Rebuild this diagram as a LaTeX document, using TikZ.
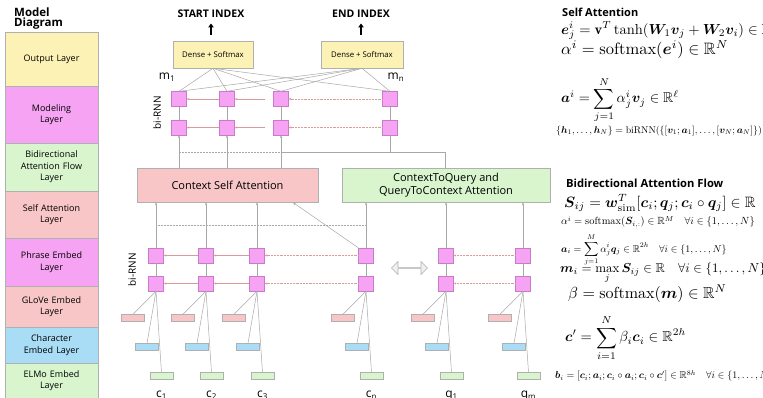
\documentclass[tikz,border=0pt]{standalone}
\usepackage{amsmath,amssymb,bm}
\usepackage{fontspec}
\newfontfamily\os{Open Sans}
\usetikzlibrary{shapes.arrows,arrows.meta}
\definecolor{cyel}{HTML}{FCF2B6}
\definecolor{cmag}{HTML}{F5A3F2}
\definecolor{cgrn}{HTML}{D8F5CE}
\definecolor{cpnk}{HTML}{F8C6C6}
\definecolor{cblu}{HTML}{A9DDF6}
\definecolor{cline}{HTML}{A8A8A8}
\definecolor{carr}{HTML}{D89A9A}
\definecolor{cbord}{HTML}{B0B0B0}
\begin{document}
\begin{tikzpicture}[x=1pt,y=-1pt,
  layer/.style={draw=cbord, line width=0.6pt, minimum width=93pt, text width=90pt, align=center,
    font=\os\fontsize{9}{11.5}\selectfont, inner sep=0pt},
  sq/.style={draw=cbord!70!magenta, fill=cmag, minimum size=15pt, inner sep=0pt, line width=0.4pt},
  conn/.style={draw=cline, line width=0.5pt},
  upa/.style={conn, -{Stealth[length=3pt,width=2.4pt]}},
  harr/.style={draw=carr, line width=0.45pt, -{Stealth[length=2.6pt,width=2.2pt]}},
  emb/.style={minimum width=23pt, minimum height=7pt, inner sep=0pt, draw=cbord, line width=0.4pt},
  bigbox/.style={draw=cbord, line width=0.6pt, inner sep=0pt, align=center, font=\os\fontsize{11}{13.5}\selectfont},
  dense/.style={draw=cbord, fill=cyel, line width=0.6pt, minimum width=80pt, minimum height=27pt, inner sep=0pt, font=\os\fontsize{7.8}{9}\selectfont},
  ttl/.style={font=\os\bfseries\fontsize{10.5}{12}\selectfont, inner sep=0pt},
  lbl/.style={font=\os\fontsize{12}{13}\selectfont, inner sep=0pt},
  eq/.style={anchor=west, inner sep=0pt}
]
\useasboundingbox (0,0) rectangle (763,398);
\fill[white] (0,0) rectangle (763,398);

% ---------- left legend ----------
\node[ttl, anchor=west, font=\os\bfseries\fontsize{11.5}{13}\selectfont] (t1) at (14,12) {Model};
\node[ttl, anchor=west, font=\os\bfseries\fontsize{11.5}{13}\selectfont] (t2) at (14,24) {Diagram};
\node[layer, fill=cyel, minimum height=54pt] (L1) at (51.5,59) {Output Layer};
\node[layer, fill=cmag, minimum height=57pt] (L2) at (51.5,114.5) {Modeling\\Layer};
\node[layer, fill=cgrn, minimum height=48pt] (L3) at (51.5,167) {Bidirectional\\Attention Flow\\Layer};
\node[layer, fill=cpnk, minimum height=47pt] (L4) at (51.5,214.5) {Self Attention\\Layer};
\node[layer, fill=cmag, minimum height=48pt] (L5) at (51.5,262) {Phrase Embed\\Layer};
\node[layer, fill=cpnk, minimum height=41pt] (L6) at (51.5,306.5) {GLoVe Embed\\Layer};
\node[layer, fill=cblu, minimum height=36pt] (L7) at (51.5,345) {Character\\Embed Layer};
\node[layer, fill=cgrn, minimum height=35pt] (L8) at (51.5,380.5) {ELMo Embed\\Layer};

% ---------- output ----------
\node[ttl] (si) at (211,14) {START INDEX};
\node[ttl] (ei) at (361,14) {END INDEX};
\node[dense] (dl) at (213,54.5) {Dense + Softmax};
\node[dense, minimum width=82pt] (dr) at (362,54.5) {Dense + Softmax};
\coordinate (a1) at (211,35);
\coordinate (a2) at (361,35);
\draw[line width=1.8pt, -{Triangle[length=4pt,width=5.5pt]}] (a1) -- (211,23.5);
\draw[line width=1.8pt, -{Triangle[length=4pt,width=5.5pt]}] (a2) -- (361,23.5);

% ---------- modeling layer ----------
\foreach \i/\x in {1/179,2/227,3/281,4/390}{
  \node[sq] (m\i) at (\x,99) {};
  \node[sq] (n\i) at (\x,127.5) {};
  \draw[conn] (m\i.south) -- (n\i.north);
}
\foreach \i in {1,...,4}{
  \draw[conn] (dl.south) -- (m\i.north);
  \draw[conn] (dr.south) -- (m\i.north);
}
\node[lbl] (mlab1) at (167,77) {m\textsubscript{1}};
\node[lbl] (mlab2) at (396,77) {m\textsubscript{n}};
\node[lbl, rotate=90, font=\os\fontsize{10}{11}\selectfont] (br1) at (157,113) {bi-RNN};
\draw[harr] (m2.west) -- (m1.east);
\draw[harr] (n2.west) -- (n1.east);
\draw[harr] ([xshift=-8pt]m3.west) -- (m2.east);
\draw[harr] ([xshift=-8pt]n3.west) -- (n2.east);
\draw[harr, densely dotted] (m4.west) -- (m3.east);
\draw[harr, densely dotted] (n4.west) -- (n3.east);

% ---------- attention boxes ----------
\node[bigbox, fill=cpnk, minimum width=181pt, minimum height=34pt] (csa) at (227.5,185) {Context Self Attention};
\node[bigbox, fill=cgrn, minimum width=208pt, minimum height=34pt] (gb) at (446,185) {ContextToQuery and\\QueryToContext Attention};

\foreach \i in {1,2,3}{
  \draw[upa] (n\i |- csa.north) -- (n\i.south);
}
\coordinate (j1) at (445,152);
\coordinate (j2) at (390,152);
\coordinate (j3) at (281,152);
\coordinate (j4) at (179,152);
\draw[conn] (j1 |- gb.north) -- (j1) -- (j3);
\draw[conn, densely dotted] (j3) -- (j4);
\draw[conn] (j2) -- (n4.south);

% ---------- phrase layer ----------
\foreach \i/\x in {1/156,2/206,3/257,4/366,5/446,6/523}{
  \node[sq] (p\i) at (\x,255.5) {};
  \node[sq] (r\i) at (\x,283.5) {};
  \draw[conn] (p\i.south) -- (r\i.north);
  \node[emb, fill=cpnk] (pk\i) at (\x-23,318) {};
  \node[emb, fill=cblu] (bl\i) at (\x-9,347) {};
  \node[emb, fill=cgrn] (gr\i) at (\x+5.5,376) {};
  \draw[conn] (r\i.south) -- (pk\i.north);
  \draw[conn] (r\i.south) -- (bl\i.north);
  \draw[conn] (r\i.south) -- (gr\i.north);
}
\foreach \i in {1,2,3}{
  \draw[upa] (p\i.north) -- (p\i |- csa.south);
}
\foreach \i in {4,5,6}{
  \draw[upa] (p\i.north) -- (p\i |- gb.south);
}
\coordinate (d1) at (293,202.5);
\draw[upa] (p4.north west) -- (d1);
\coordinate (h1) at (156,225);
\coordinate (h2) at (366,225);
\draw[conn, densely dotted] (h1) -- (h2);
\node[lbl, rotate=90, font=\os\fontsize{10}{11}\selectfont] (br2) at (132,270) {bi-RNN};
\draw[harr] (p2.west) -- (p1.east);
\draw[harr] (r2.west) -- (r1.east);
\draw[harr] (p3.west) -- (p2.east);
\draw[harr] (r3.west) -- (r2.east);
\draw[harr, densely dotted] (p4.west) -- (p3.east);
\draw[harr, densely dotted] (r4.west) -- (r3.east);
\draw[harr, densely dotted] (p6.west) -- (p5.east);
\draw[harr, densely dotted] (r6.west) -- (r5.east);
\node[double arrow, draw=cbord, fill=gray!12, minimum height=36pt, minimum width=13pt,
  double arrow head extend=3pt, inner sep=0pt, line width=0.6pt] (dbl) at (409.5,268) {};

% labels under the words
\foreach \i/\t in {1/c\textsubscript{1},2/c\textsubscript{2},3/c\textsubscript{3},4/c\textsubscript{n},5/q\textsubscript{1},6/q\textsubscript{m}}{
  \node[lbl, anchor=north, font=\os\fontsize{12}{13}\selectfont] (w\i) at ([yshift=-11pt]gr\i.south) {\t};
}

% ---------- equations ----------
\node[ttl, anchor=west, font=\os\bfseries\fontsize{11}{12}\selectfont] (st1) at (562,12) {Self Attention};
\node[eq] (e1) at (561,31) {\scalebox{1.45}{$\bm{e}^i_j=\mathbf{v}^T\tanh(\bm{W}_1\bm{v}_j+\bm{W}_2\bm{v}_i)\in\mathbb{R}$}};
\node[eq] (e2) at (561,50) {\scalebox{1.65}{$\alpha^i=\mathrm{softmax}(\bm{e}^i)\in\mathbb{R}^N$}};
\node[eq] (e3) at (561,100) {\scalebox{1.42}{$\displaystyle\bm{a}^i=\sum_{j=1}^N\alpha^i_j\bm{v}_j\in\mathbb{R}^\ell$}};
\node[eq] (e4) at (556,131) {\scalebox{0.98}{$\{\bm{h}_1,\ldots,\bm{h}_N\}=\mathrm{biRNN}(\{[\bm{v}_1;\bm{a}_1],\ldots,[\bm{v}_N;\bm{a}_N]\})$}};

\node[ttl, anchor=west, font=\os\bfseries\fontsize{11.2}{12}\selectfont] (st2) at (566,183) {Bidirectional Attention Flow};
\node[eq] (b1) at (564,203) {\scalebox{1.5}{$\bm{S}_{ij}=\bm{w}_{\mathrm{sim}}^T[\bm{c}_i;\bm{q}_j;\bm{c}_i\circ\bm{q}_j]\in\mathbb{R}$}};
\node[eq] (b2) at (561,222) {\scalebox{1.04}{$\alpha^i=\mathrm{softmax}(\bm{S}_{i,:})\in\mathbb{R}^M\quad\forall i\in\{1,\ldots,N\}$}};
\node[eq] (b3) at (561,250) {\scalebox{1.0}{$\displaystyle\bm{a}_i=\sum_{j=1}^M\alpha^i_j\bm{q}_j\in\mathbb{R}^{2h}\quad\forall i\in\{1,\ldots,N\}$}};
\node[eq] (b4) at (560,273) {\scalebox{1.3}{$\displaystyle\bm{m}_i=\max_j\bm{S}_{ij}\in\mathbb{R}\quad\forall i\in\{1,\ldots,N\}$}};
\node[eq] (b5) at (568,294) {\scalebox{1.6}{$\beta=\mathrm{softmax}(\bm{m})\in\mathbb{R}^N$}};
\node[eq] (b6) at (565,338) {\scalebox{1.45}{$\displaystyle\bm{c}'=\sum_{i=1}^N\beta_i\bm{c}_i\in\mathbb{R}^{2h}$}};
\node[eq] (b7) at (555,376) {\scalebox{1.0}{$\bm{b}_i=[\bm{c}_i;\bm{a}_i;\bm{c}_i\circ\bm{a}_i;\bm{c}_i\circ\bm{c}']\in\mathbb{R}^{8h}\quad\forall i\in\{1,\ldots,N\}$}};
\end{tikzpicture}
\end{document}
